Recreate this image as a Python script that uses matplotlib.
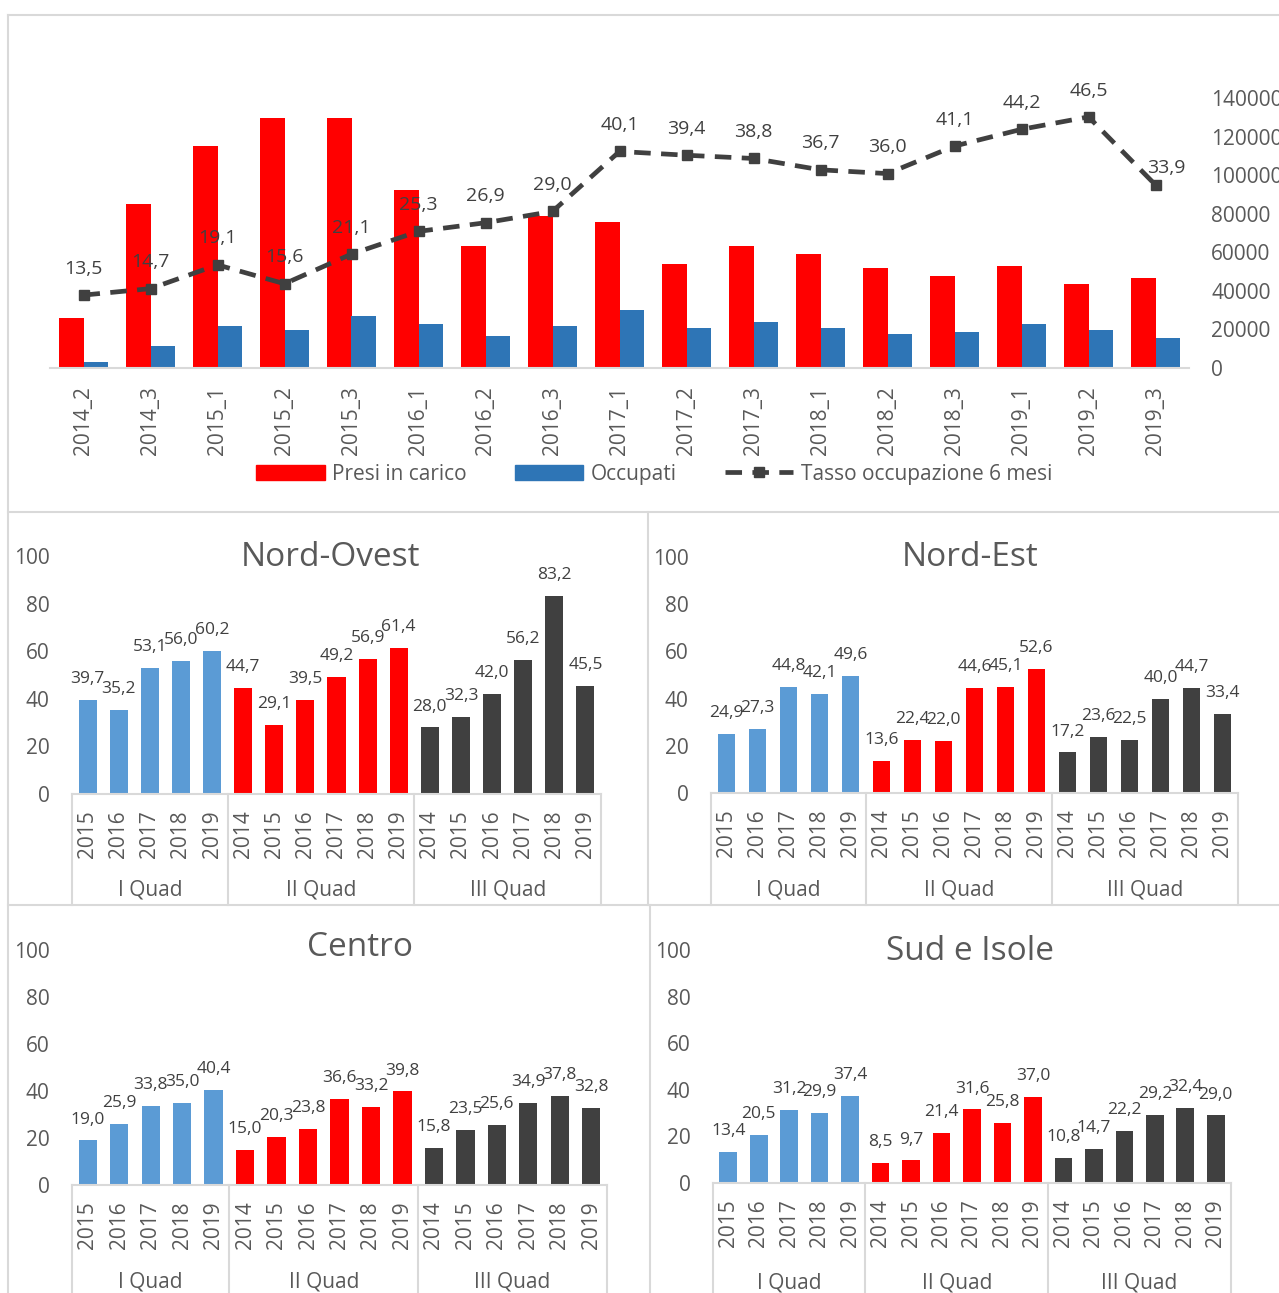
import matplotlib
matplotlib.use("Agg")
import matplotlib.pyplot as plt
from matplotlib.lines import Line2D
from matplotlib.patches import Rectangle
from matplotlib.transforms import blended_transform_factory
import numpy as np

W, H = 1279, 1293

plt.rcParams["font.family"] = ["Open Sans", "DejaVu Sans"]

RED = "#FF0000"
BLUE = "#2E75B6"
LIGHT_BLUE = "#5B9BD5"
DARK = "#404040"
TXT = "#595959"
GRID = "#D9D9D9"

# andamento trimestrale
periods = ["2014_2", "2014_3", "2015_1", "2015_2", "2015_3", "2016_1", "2016_2",
           "2016_3", "2017_1", "2017_2", "2017_3", "2018_1", "2018_2", "2018_3",
           "2019_1", "2019_2", "2019_3"]
presi = [26100, 85200, 115300, 129800, 129800, 92500, 63400, 79000, 75900,
         54100, 63400, 59300, 52000, 47900, 53000, 43700, 46800]
occupati = [3300, 11600, 21900, 19900, 27100, 23000, 16700, 21900, 30200,
            20900, 24000, 20900, 17800, 18800, 23000, 19900, 15700]
tasso = [13.5, 14.7, 19.1, 15.6, 21.1, 25.3, 26.9, 29.0, 40.1, 39.4, 38.8,
         36.7, 36.0, 41.1, 44.2, 46.5, 33.9]
legend_labels = ["Presi in carico", "Occupati", "Tasso occupazione 6 mesi"]

# tassi per ripartizione e quadrimestre
quad_labels = ["I Quad", "II Quad", "III Quad"]
years_q1 = ["2015", "2016", "2017", "2018", "2019"]
years_q2 = ["2014", "2015", "2016", "2017", "2018", "2019"]
years_q3 = ["2014", "2015", "2016", "2017", "2018", "2019"]

nord_ovest_q1 = [39.7, 35.2, 53.1, 56.0, 60.2]
nord_ovest_q2 = [44.7, 29.1, 39.5, 49.2, 56.9, 61.4]
nord_ovest_q3 = [28.0, 32.3, 42.0, 56.2, 83.2, 45.5]

nord_est_q1 = [24.9, 27.3, 44.8, 42.1, 49.6]
nord_est_q2 = [13.6, 22.4, 22.0, 44.6, 45.1, 52.6]
nord_est_q3 = [17.2, 23.6, 22.5, 40.0, 44.7, 33.4]

centro_q1 = [19.0, 25.9, 33.8, 35.0, 40.4]
centro_q2 = [15.0, 20.3, 23.8, 36.6, 33.2, 39.8]
centro_q3 = [15.8, 23.5, 25.6, 34.9, 37.8, 32.8]

sud_q1 = [13.4, 20.5, 31.2, 29.9, 37.4]
sud_q2 = [8.5, 9.7, 21.4, 31.6, 25.8, 37.0]
sud_q3 = [10.8, 14.7, 22.2, 29.2, 32.4, 29.0]


def px_axes(fig, left, top, right, bottom):
    return fig.add_axes([left / W, 1 - bottom / H, (right - left) / W, (bottom - top) / H])


def fmt(v):
    return f"{v:.1f}".replace(".", ",")


def fig_line(fig, x0, y0, x1, y1):
    fig.add_artist(Line2D([x0 / W, x1 / W], [1 - y0 / H, 1 - y1 / H],
                          transform=fig.transFigure, color=GRID, lw=1.5))


def clean_spines(ax):
    for s in ["top", "left", "right"]:
        ax.spines[s].set_visible(False)
    ax.spines["bottom"].set_color(GRID)
    ax.spines["bottom"].set_linewidth(1.5)
    ax.patch.set_visible(False)


fig = plt.figure(figsize=(W / 100, H / 100), dpi=100)

# cornici dei pannelli
fig_line(fig, 8, 15, W, 15)
fig_line(fig, 8, 15, 8, H)
fig_line(fig, 8, 512, W, 512)
fig_line(fig, 648, 512, 648, 905)
fig_line(fig, 8, 905, W, 905)
fig_line(fig, 650, 905, 650, H)

# --- grafico principale ---
ax = px_axes(fig, 50, 98, 1189, 368)
x = np.arange(len(periods))
ax.bar(x - 0.18, presi, 0.36, color=RED)
ax.bar(x + 0.18, occupati, 0.36, color=BLUE)
ax.set_xlim(-0.5, len(periods) - 0.5)
ax.set_ylim(0, 140000)
ax.set_yticks(range(0, 140001, 20000))
ax.set_xticks(x, periods, rotation=90)
ax.tick_params(axis="x", length=0, pad=13, labelsize=15, labelcolor=TXT)
clean_spines(ax)

line_style = dict(ls=(0, (3.5, 2.2)), lw=3.4, color=DARK, marker="s", ms=7)
ax2 = ax.twinx()
ax2.set_ylim(0, 50)
ax2.plot(x, tasso, **line_style)
ax2.set_axis_off()
for i, v in enumerate(tasso):
    off = (8, 12) if i == len(tasso) - 1 else (0, 19)
    ax2.annotate(fmt(v), (i, v), xytext=off, textcoords="offset points",
                 ha="center", va="center", fontsize=14, color=DARK)

# twinx rimette i tick a sinistra: scala dei valori assoluti sul lato destro
ax.yaxis.tick_right()
ax.tick_params(axis="y", length=0, pad=16, labelsize=15, labelcolor=TXT)

handles = [Rectangle((0, 0), 1, 1, color=RED),
           Rectangle((0, 0), 1, 1, color=BLUE),
           Line2D([], [], **line_style)]
fig.legend(handles, legend_labels, loc="center", bbox_to_anchor=(654 / W, 1 - 474 / H),
           ncol=3, frameon=False, fontsize=15, handlelength=3.3, handleheight=0.7,
           handletextpad=0.35, columnspacing=2.3, labelcolor=TXT)


# --- pannelli per ripartizione ---
def draw_region(rect, title, title_pos, q_values, floor_px, group_px):
    ax = px_axes(fig, *rect)
    years_all = [years_q1, years_q2, years_q3]
    colours = [LIGHT_BLUE, RED, DARK]
    vals, cols, ticks = [], [], []
    bounds = [-0.5]
    for years, values, c in zip(years_all, q_values, colours):
        vals += values
        cols += [c] * len(values)
        ticks += years
        bounds.append(bounds[-1] + len(values))
    xs = np.arange(len(vals))
    ax.bar(xs, vals, 0.58, color=cols)
    for xi, v in zip(xs, vals):
        ax.annotate(fmt(v), (xi, v), xytext=(0, 15), textcoords="offset points",
                    ha="center", va="center", fontsize=12.5, color=DARK)
    ax.set_xlim(-0.5, len(vals) - 0.5)
    ax.set_ylim(0, 100)
    ax.set_yticks(range(0, 101, 20))
    ax.tick_params(axis="y", length=0, pad=16, labelsize=15, labelcolor=TXT)
    ax.set_xticks(xs, ticks, rotation=90)
    ax.tick_params(axis="x", length=0, pad=12, labelsize=15, labelcolor=TXT)
    clean_spines(ax)

    trans = blended_transform_factory(ax.transData, fig.transFigure)
    for b in bounds:
        fig.add_artist(Line2D([b, b], [1 - rect[3] / H, 1 - floor_px / H],
                              transform=trans, color=GRID, lw=1.5))
    for k, lab in enumerate(quad_labels):
        ax.text((bounds[k] + bounds[k + 1]) / 2, 1 - group_px / H, lab, transform=trans,
                ha="center", va="center", fontsize=15, color=TXT)
    fig.text(title_pos[0] / W, 1 - title_pos[1] / H, title, ha="center", va="center",
             fontsize=24, color=TXT)


draw_region((72, 556, 601, 794), "Nord-Ovest", (330, 558),
            [nord_ovest_q1, nord_ovest_q2, nord_ovest_q3], 905, 890)
draw_region((711, 557, 1238, 793), "Nord-Est", (970, 558),
            [nord_est_q1, nord_est_q2, nord_est_q3], 905, 890)
draw_region((72, 950, 607, 1185), "Centro", (360, 947),
            [centro_q1, centro_q2, centro_q3], H, 1282)
draw_region((713, 950, 1231, 1183), "Sud e Isole", (970, 952),
            [sud_q1, sud_q2, sud_q3], H, 1283)

fig.savefig("out.png", dpi=100, facecolor="white")
